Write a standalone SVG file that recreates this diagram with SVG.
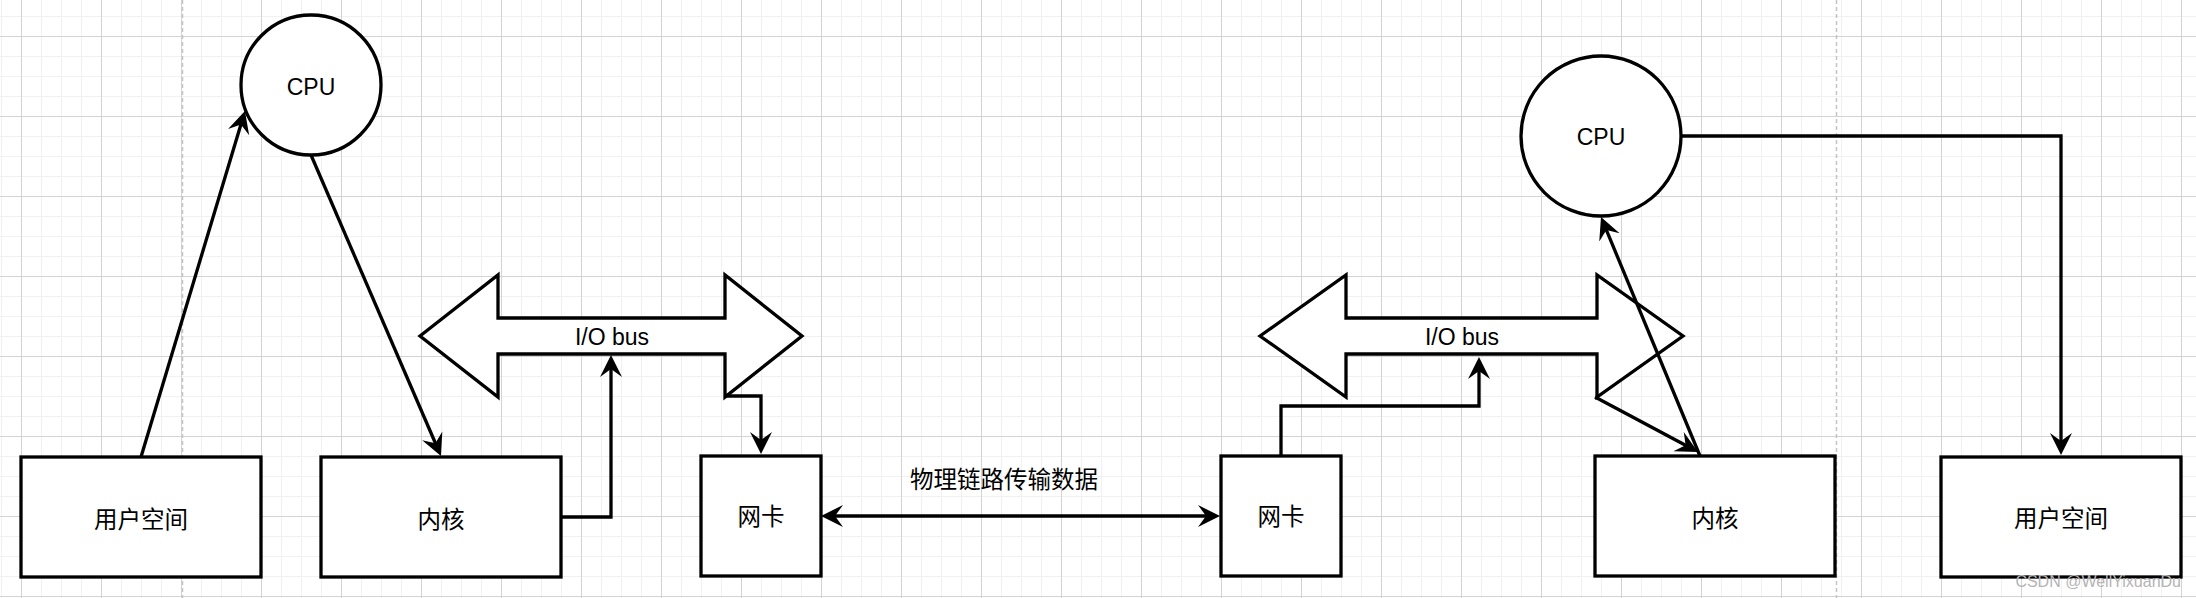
<svg xmlns="http://www.w3.org/2000/svg" width="2196" height="598" viewBox="0 0 2196 598">
<defs>
<pattern id="minor" patternUnits="userSpaceOnUse" x="1" y="16" width="20" height="20"><rect x="0" y="0" width="1" height="20" fill="#f1f1f1"/><rect x="0" y="0" width="20" height="1" fill="#f1f1f1"/></pattern>
<pattern id="major" patternUnits="userSpaceOnUse" x="21" y="36" width="80" height="80"><rect x="0" y="0" width="1" height="80" fill="#d3d3d3"/><rect x="0" y="0" width="80" height="1" fill="#d3d3d3"/></pattern>
<marker id="arr" markerUnits="userSpaceOnUse" viewBox="0 -12 23 24" markerWidth="23" markerHeight="24" refX="10" refY="0" orient="auto"><path d="M0,-11 L22,0 L0,11 L8,0 Z" fill="#000"/></marker>
<marker id="arr2" markerUnits="userSpaceOnUse" viewBox="0 -12 23 24" markerWidth="23" markerHeight="24" refX="10" refY="0" orient="auto-start-reverse"><path d="M0,-11 L22,0 L0,11 L8,0 Z" fill="#000"/></marker>
</defs>
<style>
.box{fill:#fff;stroke:#000;stroke-width:3.3}
.bus{fill:#fff;stroke:#000;stroke-width:3.3;stroke-linejoin:miter}
.edge{fill:none;stroke:#000;stroke-width:3.3}
.lat{font-family:"Liberation Sans",Arial,sans-serif;font-size:23px;fill:#000;text-anchor:middle}
.cjk{font-family:"Liberation Sans","Noto Sans CJK SC",sans-serif;font-size:23.5px;fill:#000;text-anchor:middle}
.page{stroke:#c4c4c4;stroke-width:1.5;stroke-dasharray:4 3}
</style>
<rect width="2196" height="598" fill="#fff"/>
<rect width="2196" height="598" fill="url(#minor)"/>
<rect width="2196" height="598" fill="url(#major)"/>
<line class="page" x1="182.5" y1="0" x2="182.5" y2="598"/>
<line class="page" x1="1836.5" y1="0" x2="1836.5" y2="598"/>

<g id="cpu-left"><circle class="box" cx="311" cy="85" r="70"/><text class="lat" x="311" y="95">CPU</text></g>
<g id="user-left"><rect class="box" x="21" y="457" width="240" height="120"/><text class="cjk" x="141" y="528">用户空间</text></g>
<g id="kernel-left"><rect class="box" x="321" y="457" width="240" height="120"/><text class="cjk" x="441" y="528">内核</text></g>
<g id="bus-left"><polygon class="bus" points="420,336 498,275 498,318 725,318 725,275 802,336 725,397 725,354 498,354 498,397"/><text class="lat" x="612" y="345">I/O bus</text></g>
<g id="nic-left"><rect class="box" x="701" y="456" width="120" height="120"/><text class="cjk" x="761" y="525">网卡</text></g>
<g id="link-label"><text class="cjk" x="1004" y="488">物理链路传输数据</text></g>
<g id="nic-right"><rect class="box" x="1221" y="456" width="120" height="120"/><text class="cjk" x="1281" y="525">网卡</text></g>
<g id="bus-right"><polygon class="bus" points="1260,336 1346,275 1346,318 1597,318 1597,275 1683,336 1597,397 1597,354 1346,354 1346,397"/><text class="lat" x="1462" y="345">I/O bus</text></g>
<g id="kernel-right"><rect class="box" x="1595" y="456" width="240" height="120"/><text class="cjk" x="1715" y="527">内核</text></g>
<g id="cpu-right"><circle class="box" cx="1601" cy="136" r="80"/><text class="lat" x="1601" y="145">CPU</text></g>
<g id="user-right"><rect class="box" x="1941" y="457" width="240" height="120"/><text class="cjk" x="2061" y="527">用户空间</text></g>

<g id="connectors">
<path class="edge" d="M141,457 L241.5,122.5" marker-end="url(#arr)"/>
<path class="edge" d="M311,155 L436.2,445" marker-end="url(#arr)"/>
<path class="edge" d="M561,517 H611 V367" marker-end="url(#arr)"/>
<path class="edge" d="M725,396 H761 V442" marker-end="url(#arr)"/>
<path class="edge" d="M833,516 H1208" marker-start="url(#arr2)" marker-end="url(#arr2)"/>
<path class="edge" d="M1281,456 V406 H1479 V369" marker-end="url(#arr)"/>
<path class="edge" d="M1595,397 L1687.4,446.3" marker-end="url(#arr)"/>
<path class="edge" d="M1700,456 L1605.6,228.1" marker-end="url(#arr)"/>
<path class="edge" d="M1682,136 H2061 V443" marker-end="url(#arr)"/>
</g>
<text x="2181" y="587" font-family="Liberation Sans,Arial,sans-serif" font-size="16" fill="#b4b4b4" text-anchor="end">CSDN @WellYixuanDu</text>
</svg>
